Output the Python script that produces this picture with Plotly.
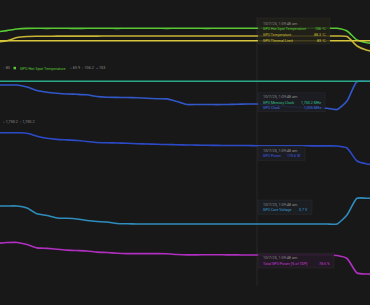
import plotly.graph_objects as go
import pandas as pd

W, H = 370, 305

# ---------------- data ----------------
times = pd.date_range("2025-10-07 01:08:56", periods=39, freq="2s")
crosshair_time = "2025-10-07 01:09:48"
crosshair_label = "10/7/25, 1:09:48 am"
CI = 26  # sample index at crosshair

hot_spot = [97.6, 100.7, 104.4, 105.8, 106.0, 105.9, 106.1, 106.0, 105.8, 106.0,
            106.2, 106.1, 105.9, 106.0, 106.1, 106.2, 106.0, 105.9, 106.0, 106.1,
            106.0, 105.9, 106.0, 106.1, 106.0, 106.0, 106.0, 105.9, 106.0, 106.1,
            106.0, 106.0, 105.9, 106.0, 106.0, 99.8, 79.1, 72.9, 69.9]
gpu_temp = [74.5, 77.3, 84.8, 87.1, 87.6, 87.8, 87.9, 88.0, 88.0, 88.1,
            88.1, 88.2, 88.3, 88.3, 88.3, 88.3, 88.3, 88.3, 88.3, 88.3,
            88.3, 88.3, 88.3, 88.3, 88.3, 88.3, 88.3, 88.3, 88.3, 88.3,
            88.3, 88.3, 88.3, 88.3, 88.3, 87.1, 65.3, 55.4, 51.5]
thermal_limit = [83, 83, 83, 83, 83, 83, 83, 83, 83, 83,
                 83, 83, 83, 83, 83, 83, 83, 83, 83, 83,
                 83, 83, 83, 83, 83, 83, 83, 83, 83, 83,
                 83, 83, 83, 83, 83, 83, 83, 83, 83]
mem_clock = [1750.2, 1750.2, 1750.2, 1750.2, 1750.2, 1750.2, 1750.2, 1750.2, 1750.2, 1750.2,
             1750.2, 1750.2, 1750.2, 1750.2, 1750.2, 1750.2, 1750.2, 1750.2, 1750.2, 1750.2,
             1750.2, 1750.2, 1750.2, 1750.2, 1750.2, 1750.2, 1750.2, 1750.2, 1750.2, 1750.2,
             1750.2, 1750.2, 1750.2, 1750.2, 1750.2, 1750.2, 1750.2, 1750.2, 1750.2]
gpu_clock = [1634, 1634, 1632, 1570, 1460, 1404, 1372, 1350, 1341, 1325,
             1271, 1249, 1243, 1240, 1231, 1215, 1202, 1196, 1114, 1019,
             1019, 1019, 1016, 1019, 1029, 1035, 1035, 1019, 988, 956,
             931, 915, 903, 900, 862, 1130, 1744, 1750, 1750]
gpu_power = [190.1, 190.1, 190.0, 189.4, 184.9, 181.7, 180.1, 179.3, 178.4, 176.9,
             175.3, 175.0, 174.7, 174.2, 173.6, 173.2, 172.7, 172.3, 172.0, 171.7,
             171.4, 171.2, 171.1, 170.9, 170.8, 170.8, 170.6, 170.5, 170.6, 170.4,
             170.6, 170.5, 170.3, 170.4, 170.2, 167.2, 147.7, 143.2, 141.7]
core_voltage = [0.790, 0.790, 0.790, 0.780, 0.751, 0.7425, 0.730, 0.7285, 0.725, 0.7175,
                0.7125, 0.710, 0.7025, 0.701, 0.700, 0.700, 0.700, 0.700, 0.700, 0.700,
                0.700, 0.700, 0.700, 0.700, 0.700, 0.700, 0.700, 0.700, 0.700, 0.700,
                0.700, 0.700, 0.700, 0.700, 0.700, 0.745, 0.8285, 0.8285, 0.8285]
tdp_pct = [87.2, 87.8, 87.9, 86.4, 83.9, 83.5, 82.9, 82.2, 81.9, 81.6,
           80.7, 80.4, 79.9, 79.6, 79.6, 79.6, 79.6, 79.5, 79.0, 78.7,
           78.7, 78.8, 78.8, 78.7, 78.7, 78.6, 78.6, 78.6, 78.6, 78.6,
           78.6, 78.6, 78.6, 78.6, 78.2, 76.0, 65.3, 64.5, 64.5]

# ---------------- styling ----------------
BG = "#181818"
C_HOT = "#58c934"
C_TEMP = "#c8b535"
C_LIMIT = "#d8c63c"
C_MEM = "#27a98a"
C_CLK = "#3157c9"
C_PWR = "#2c4ac8"
C_VOLT = "#2f8dbd"
C_PCT = "#b02fc0"
GREY = "#8e8e8e"
FONT = "Roboto"


def yrange(v_anchor, px_anchor, scale):
    """axis range so that v_anchor sits at pixel row px_anchor, scale = units per pixel"""
    return [v_anchor - (H - px_anchor) * scale, v_anchor + px_anchor * scale]


def P(xpx):
    return xpx / W


def Q(ypx):
    return 1 - ypx / H


fig = go.Figure()

series = [
    ("GPU Thermal Limit", thermal_limit, C_LIMIT, "y2"),
    ("GPU Temperature", gpu_temp, C_TEMP, "y"),
    ("GPU Hot Spot Temperature", hot_spot, C_HOT, "y"),
    ("GPU Clock", gpu_clock, C_CLK, "y3"),
    ("GPU Memory Clock", mem_clock, C_MEM, "y3"),
    ("GPU Power", gpu_power, C_PWR, "y4"),
    ("GPU Core Voltage", core_voltage, C_VOLT, "y5"),
    ("Total GPU Power [% of TDP]", tdp_pct, C_PCT, "y6"),
]
for name, vals, col, ax in series:
    fig.add_trace(go.Scatter(
        x=times, y=vals, name=name, mode="lines", yaxis=ax,
        line=dict(color=col, width=1.6, shape="spline", smoothing=0.6),
        hoverinfo="skip", showlegend=False))

axis_common = dict(visible=False, fixedrange=True, domain=[0, 1])
fig.update_layout(
    width=W, height=H,
    margin=dict(l=0, r=0, t=0, b=0),
    paper_bgcolor=BG, plot_bgcolor=BG,
    showlegend=False,
    xaxis=dict(visible=False, type="date", fixedrange=True,
               range=["2025-10-07 01:08:56.6", "2025-10-07 01:10:10.6"]),
    yaxis=dict(range=yrange(106, 28.3, 2.3), **axis_common),
    yaxis2=dict(range=yrange(83, 40.7, 2.3), overlaying="y", **axis_common),
    yaxis3=dict(range=yrange(1750.2, 81.3, 31.5), overlaying="y", **axis_common),
    yaxis4=dict(range=yrange(170.6, 145.7, 1.5), overlaying="y", **axis_common),
    yaxis5=dict(range=yrange(0.7, 224, 0.005), overlaying="y", **axis_common),
    yaxis6=dict(range=yrange(78.6, 255, 0.74), overlaying="y", **axis_common),
)

shapes = []
annotations = []

# crosshair
shapes.append(dict(type="line", xref="x", yref="paper",
                   x0=crosshair_time, x1=crosshair_time, y0=Q(286), y1=Q(17),
                   line=dict(color="rgba(255,255,255,0.065)", width=1), layer="below"))


def text(xpx, ypx, s, color, size=3.6, anchor="left"):
    annotations.append(dict(xref="paper", yref="paper", x=P(xpx), y=Q(ypx),
                            text=s, showarrow=False, xanchor=anchor, yanchor="middle",
                            font=dict(family=FONT, size=size, color=color)))


def fmt(v):
    return f"{v:,g}"


def tooltip(x0, y0, x1, y1, title_y, rows, tint):
    shapes.append(dict(type="rect", xref="paper", yref="paper",
                       x0=P(x0), x1=P(x1), y0=Q(y1), y1=Q(y0),
                       fillcolor=tint, line=dict(color="rgba(70,70,70,0.35)", width=0.6),
                       layer="above"))
    text(x0 + 3.0, title_y, crosshair_label, GREY, size=3.8)
    for label, val, col, ry in rows:
        text(x0 + 3.0, ry, label, col)
        text(x1 - 2.0, ry, val, col, anchor="right")


tooltip(258, 18, 330, 44, 23.5, [
    ("GPU Hot Spot Temperature", fmt(hot_spot[CI]) + " °C", C_HOT, 29.3),
    ("GPU Temperature", fmt(gpu_temp[CI]) + " °C", C_TEMP, 35.3),
    ("GPU Thermal Limit", fmt(thermal_limit[CI]) + " °C", C_LIMIT, 41.0),
], "rgba(34,33,24,0.82)")

tooltip(258, 92.7, 325, 111.7, 96.3, [
    ("GPU Memory Clock", fmt(mem_clock[CI]) + " MHz", "#2fc08f", 102.7),
    ("GPU Clock", fmt(gpu_clock[CI]) + " MHz", "#3d6ee0", 108.3),
], "rgba(28,30,36,0.88)")

tooltip(258, 146, 305, 160.5, 150.2, [
    ("GPU Power", fmt(gpu_power[CI]) + " W", "#3d5ee0", 156.0),
], "rgba(28,29,36,0.88)")

tooltip(258, 200, 312, 214.5, 204.3, [
    ("GPU Core Voltage", fmt(core_voltage[CI]) + " V", "#3a9fd2", 210.2),
], "rgba(27,31,35,0.88)")

tooltip(258, 253.3, 334, 268, 257.5, [
    ("Total GPU Power [% of TDP]", fmt(tdp_pct[CI]) + " %", "#c23ad2", 264.0),
], "rgba(36,26,38,0.9)")

# legend / stats rows
text(0.5, 68, "↑ " + fmt(max(thermal_limit)), GREY, size=3.7)
shapes.append(dict(type="rect", xref="paper", yref="paper",
                   x0=P(13.5), x1=P(16), y0=Q(69.3), y1=Q(66.8),
                   fillcolor=C_HOT, line=dict(width=0)))
text(17.5, 68, "GPU Hot Spot Temperature", C_HOT, size=3.8)
hs_stats = "↓ %s  ↑ %s  ~ %s" % (fmt(min(hot_spot)), fmt(max(hot_spot)),
                                 fmt(round(sum(hot_spot) / len(hot_spot), 1)))
text(68, 68, hs_stats, GREY, size=3.7)
text(0.5, 121.8, "↓ %s  ↑ %s" % (fmt(min(mem_clock)), fmt(max(mem_clock))), GREY, size=3.7)

fig.update_layout(shapes=shapes, annotations=annotations)
fig.write_html("out.html")
